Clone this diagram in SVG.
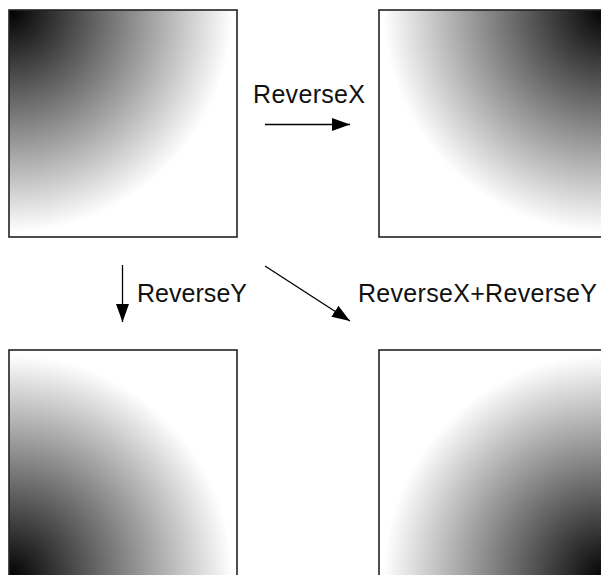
<svg xmlns="http://www.w3.org/2000/svg" width="601" height="575" viewBox="0 0 601 575">
<style>
.box{stroke:#222;stroke-width:1.6}
.lbl{font-family:"Liberation Sans",Arial,sans-serif;font-size:25px;fill:#111}
.conn{stroke:#000;stroke-width:1.3;fill:none;marker-end:url(#ah)}
</style>
<defs>
<marker id="ah" markerUnits="userSpaceOnUse" markerWidth="19" markerHeight="13" refX="18" refY="6.5" orient="auto">
<path d="M0,0 L18,6.5 L0,13 z" fill="#000"/>
</marker>
<radialGradient id="gTL" cx="0" cy="0" r="0.98" fx="0" fy="0"><stop offset="0" stop-color="#000"/><stop offset="1" stop-color="#fff"/></radialGradient>
<radialGradient id="gTR" cx="1" cy="0" r="0.98" fx="1" fy="0"><stop offset="0" stop-color="#000"/><stop offset="1" stop-color="#fff"/></radialGradient>
<radialGradient id="gBL" cx="0" cy="1" r="0.98" fx="0" fy="1"><stop offset="0" stop-color="#000"/><stop offset="1" stop-color="#fff"/></radialGradient>
<radialGradient id="gBR" cx="1" cy="1" r="0.98" fx="1" fy="1"><stop offset="0" stop-color="#000"/><stop offset="1" stop-color="#fff"/></radialGradient>
</defs>
<rect width="601" height="575" fill="#fff"/>
<g id="original"><rect class="box" x="9" y="10" width="228" height="227" fill="url(#gTL)"/></g>
<g id="reverseX"><rect class="box" x="379" y="10" width="228" height="227" fill="url(#gTR)"/></g>
<g id="reverseY"><rect class="box" x="9" y="350" width="228" height="228" fill="url(#gBL)"/></g>
<g id="reverseXY"><rect class="box" x="379" y="350" width="228" height="228" fill="url(#gBR)"/></g>
<g id="connectors">
<line class="conn" x1="265" y1="124.5" x2="350" y2="124.5"/>
<line class="conn" x1="122.5" y1="265" x2="122.5" y2="322"/>
<line class="conn" x1="265" y1="266" x2="350" y2="321"/>
</g>
<g id="labels">
<text class="lbl" x="253" y="103" textLength="112">ReverseX</text>
<text class="lbl" x="137" y="302" textLength="110">ReverseY</text>
<text class="lbl" x="358" y="302" textLength="239">ReverseX+ReverseY</text>
</g>
</svg>
